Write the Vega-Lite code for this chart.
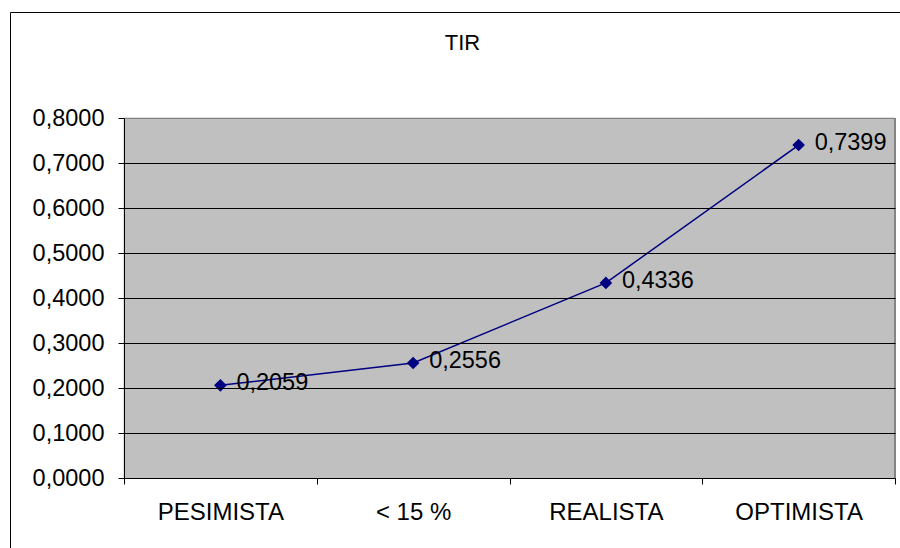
{
  "$schema": "https://vega.github.io/schema/vega-lite/v6.json",
  "autosize": "none",
  "padding": {"left": 10, "top": 12, "right": 0, "bottom": 0},
  "width": 905,
  "height": 540,
  "background": "white",
  "title": {
    "text": "TIR",
    "font": "Liberation Sans",
    "fontSize": 22,
    "fontWeight": "normal",
    "color": "#000",
    "anchor": "middle",
    "frame": "group",
    "baseline": "alphabetic",
    "offset": -60
  },
  "data": {
    "values": [
      {"escenario": "PESIMISTA", "tir": 0.2059},
      {"escenario": "< 15 %", "tir": 0.2556},
      {"escenario": "REALISTA", "tir": 0.4336},
      {"escenario": "OPTIMISTA", "tir": 0.7399}
    ]
  },
  "layer": [
    {
      "mark": {"type": "rect", "fill": "#c0c0c0", "stroke": "#c0c0c0", "strokeWidth": 1},
      "encoding": {
        "x": {
          "field": "escenario",
          "type": "nominal",
          "sort": null,
          "scale": {"type": "band", "range": [114, 885], "paddingInner": 0, "paddingOuter": 0},
          "axis": {
            "orient": "bottom",
            "offset": -74,
            "tickBand": "extent",
            "title": null,
            "labelAngle": 0,
            "labelFont": "Liberation Sans",
            "labelFontSize": 24,
            "labelColor": "#000",
            "labelPadding": 16,
            "tickSize": 6,
            "tickColor": "#000",
            "domainColor": "#000",
            "grid": false,
            "zindex": 1
          }
        },
        "y": {
          "datum": 0.8,
          "type": "quantitative",
          "scale": {"domain": [0, 0.8], "range": [466, 106], "nice": false, "zero": true},
          "axis": {
            "orient": "left",
            "offset": -114,
            "values": [0, 0.1, 0.2, 0.3, 0.4, 0.5, 0.6, 0.7, 0.8],
            "format": ".4f",
            "title": null,
            "labelFont": "Liberation Sans",
            "labelFontSize": 23.5,
            "labelColor": "#000",
            "labelPadding": 14,
            "tickSize": 6,
            "tickColor": "#000",
            "domainColor": "#000",
            "grid": true,
            "gridColor": {"condition": {"test": "datum.value > 0.79", "value": "#808080"}, "value": "#000"},
            "gridOpacity": 1,
            "zindex": 1
          }
        },
        "y2": {"datum": 0}
      }
    },
    {
      "mark": {"type": "rule", "color": "#808080", "strokeWidth": 1},
      "encoding": {
        "x": {"datum": "OPTIMISTA", "type": "nominal", "bandPosition": 1},
        "y": {"datum": 0.8, "type": "quantitative"},
        "y2": {"datum": 0}
      }
    },
    {
      "mark": {"type": "line", "color": "#000080", "strokeWidth": 1.5},
      "encoding": {
        "x": {"field": "escenario", "type": "nominal", "sort": null},
        "y": {"field": "tir", "type": "quantitative"}
      }
    },
    {
      "mark": {"type": "point", "shape": "diamond", "filled": true, "size": 160, "color": "#000080", "opacity": 1},
      "encoding": {
        "x": {"field": "escenario", "type": "nominal", "sort": null},
        "y": {"field": "tir", "type": "quantitative"}
      }
    },
    {
      "mark": {"type": "text", "align": "left", "baseline": "middle", "dx": 16, "dy": -2, "font": "Liberation Sans", "fontSize": 23.5, "color": "#000"},
      "encoding": {
        "x": {"field": "escenario", "type": "nominal", "sort": null},
        "y": {"field": "tir", "type": "quantitative"},
        "text": {"field": "tir", "type": "quantitative", "format": ".4f"}
      }
    }
  ],
  "config": {
    "view": {"stroke": "#000", "strokeWidth": 1, "fill": "white"},
    "locale": {
      "number": {"decimal": ",", "thousands": ".", "grouping": [3], "currency": ["", " €"]}
    }
  }
}
